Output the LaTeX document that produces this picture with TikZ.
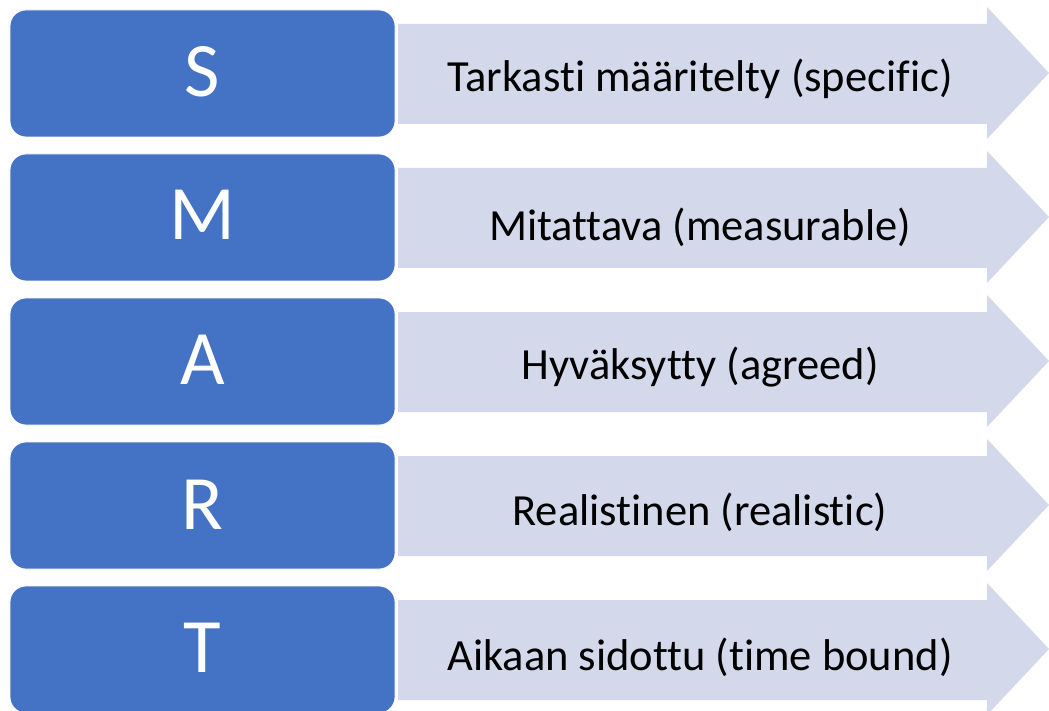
\documentclass[tikz,border=0pt]{standalone}
\usepackage{fontspec}
\setmainfont[Ligatures={NoCommon,NoDiscretionary,NoRare}]{Carlito}
\definecolor{boxblue}{HTML}{4472C4}
\definecolor{arrowfill}{HTML}{D3D8EA}
\tikzset{
  letterbox/.style={rectangle, rounded corners=16pt, fill=boxblue, draw=white, line width=0.8pt,
    minimum width=385pt, minimum height=127pt, inner sep=0pt},
  lettertext/.style={text=white, font=\fontsize{77}{80}\selectfont, anchor=base, inner sep=0pt},
  arrowshape/.style={fill=arrowfill, draw=none},
  arrowtext/.style={text=black, font=\fontsize{44.5}{50}\selectfont, anchor=base, inner sep=0pt}
}
\begin{document}
\begin{tikzpicture}[x=1pt,y=-1pt]
\useasboundingbox (0,0) rectangle (1049,711);
\clip (0,0) rectangle (1049,711);
\foreach \t/\L/\txt/\b/\lb [count=\i] in {
  10/S/Tarkasti määritelty (specific)/92/97,
  154/M/Mitattava (measurable)/241/240,
  298/A/Hyväksytty (agreed)/379/384,
  442/R/Realistinen (realistic)/525/529,
  586/T/Aikaan sidottu (time bound)/670/672}{
  \draw[arrowshape] (398,\t+14) -- (987,\t+14) -- (987,\t-3) -- (1049,\t+63)
     -- (987,\t+129) -- (987,\t+114) -- (398,\t+114) -- cycle;
  \node[letterbox] (box\i) at (202.5,\t+63.5) {};
  \node[lettertext] (let\i) at (202.5,\lb) {\L};
  \node[arrowtext] (txt\i) at (700,\b) {\txt};
}
\end{tikzpicture}
\end{document}
